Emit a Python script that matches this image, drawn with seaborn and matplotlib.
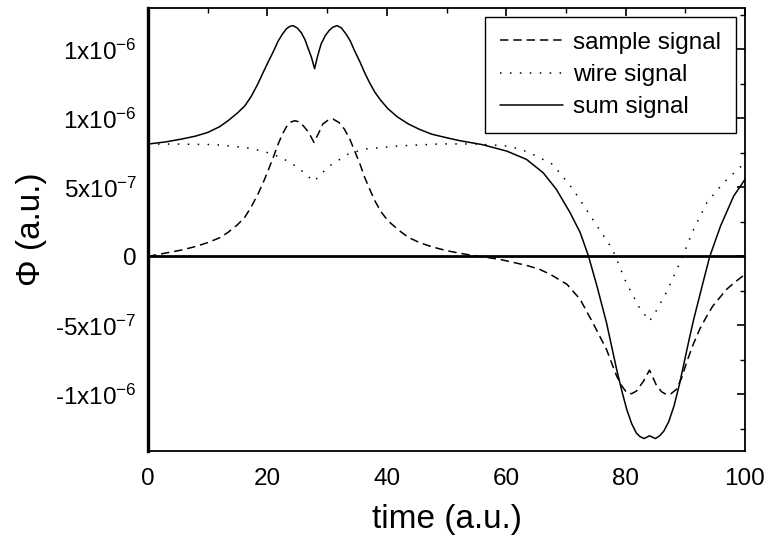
import numpy as np
import pandas as pd
import matplotlib
matplotlib.use("Agg")
import matplotlib.pyplot as plt
import seaborn as sns
from matplotlib.ticker import FixedLocator, MultipleLocator

# ---- data (values in units of 1e-7 a.u.) ----
sample_t = [0, 5.6, 8.0, 10.0, 12.0, 13.4, 15.0, 16.2, 17.3, 18.4, 19.3, 20.1, 21.0, 21.8,
            22.5, 23.2, 24.0, 24.6, 25.3, 26.0, 26.9, 27.8,
            28.6, 29.3, 30.1, 31.0, 32.0, 32.9, 33.8, 34.6, 35.5, 36.3, 37.2, 38.0, 39.0,
            40.2, 42.0, 43.6, 45.5, 47.5, 50.0, 52.3, 54.5, 59.0,
            63.4, 65.5, 67.4, 70.2, 72.4, 74.5, 76.8, 78.5, 79.4, 80.2, 81.0, 81.8, 83.0,
            84.0, 85.1, 86.0, 86.8, 87.6, 88.5, 89.4, 90.2, 91.3, 92.4, 93.5, 94.6, 96.9,
            98.5, 100]
sample_v = [0, 0.46, 0.72, 1.0, 1.35, 1.74, 2.3, 2.83, 3.6, 4.5, 5.35, 6.2, 7.2, 8.14,
            8.85, 9.4, 9.75, 9.83, 9.75, 9.47, 9.0, 8.26,
            8.95, 9.6, 9.85, 9.95, 9.7, 9.22, 8.5, 7.66, 6.7, 5.72, 4.8, 4.03, 3.25,
            2.58, 1.9, 1.38, 1.0, 0.7, 0.42, 0.22, 0.07, -0.22,
            -0.65, -0.92, -1.3, -2.03, -3.12, -4.8, -6.74, -8.67, -9.4, -9.88, -9.95, -9.76, -9.04,
            -8.24, -9.28, -9.8, -10.0, -9.95, -9.64, -8.8, -7.7, -6.4, -5.29, -4.4, -3.6, -2.39,
            -1.8, -1.3]

wire_t = [0, 5, 11.2, 16.2, 19.5, 22.3, 25.1, 27.8, 30.2, 33.5, 36.3, 41.9, 48.9,
          55, 60.1, 62.5, 64.5, 67.8, 71.2, 74.5, 77.8, 80.1, 82.3, 84.0, 85.1, 86.8,
          89.1, 91.4, 93.6, 96.4, 100]
wire_v = [8.14, 8.14, 8.1, 7.9, 7.6, 7.17, 6.45, 5.43, 6.5, 7.41, 7.78, 8.0, 8.15,
          8.15, 8.0, 7.75, 7.39, 6.67, 4.86, 2.68, 0.51, -1.9, -3.7, -4.69, -3.96, -2.63,
          -0.46, 1.96, 3.89, 5.34, 6.79]

sum_t = [0, 3.0, 5.6, 8.0, 10.05, 12.0, 13.4, 15.0, 16.2, 17.3, 18.4, 19.2, 20.1, 21.0,
         21.8, 22.5, 23.2, 23.8, 24.3, 25.0, 25.7, 26.3, 26.8, 27.4, 27.9,
         28.4, 29.0, 29.7, 30.4, 31.0, 31.7, 32.4, 33.2, 33.9, 34.6, 35.5, 36.3, 37.1,
         38.0, 39.0, 40.2, 41.8, 43.6, 45.5, 47.5, 50.0, 52.3, 56,
         60.1, 63.4, 66.2, 68.4, 70.7, 72.4, 73.8, 75.2, 76.8, 78.5, 79.4, 80.2, 81.0,
         81.8, 82.4, 83.1, 84.0, 85.0, 85.7, 86.4, 87.2, 88.1, 89.0, 89.8, 90.6, 91.4,
         93.1, 94.1, 95.9, 98.1, 100]
sum_v = [8.14, 8.3, 8.5, 8.72, 8.99, 9.4, 9.83, 10.4, 10.9, 11.6, 12.5, 13.25, 14.06, 14.85,
         15.6, 16.1, 16.5, 16.68, 16.72, 16.55, 16.2, 15.7, 15.1, 14.4, 13.6,
         14.5, 15.4, 16.0, 16.4, 16.62, 16.72, 16.55, 16.1, 15.6, 14.9, 14.1, 13.3, 12.6,
         11.9, 11.3, 10.7, 10.1, 9.6, 9.2, 8.86, 8.6, 8.38, 8.1,
         7.63, 7.03, 6.06, 4.86, 3.17, 1.72, 0, -2.15, -4.8, -8.19, -9.8, -11.1, -12.1,
         -12.8, -13.05, -13.2, -13.0, -13.2, -13.0, -12.66, -12.0, -10.85, -9.3, -7.7, -6.1, -4.57,
         -1.67, 0, 2.2, 4.37, 5.58]

UNIT = 1e-7

ytick_vals = [-1e-6, -5e-7, 0, 5e-7, 1e-6, 1.5e-6]
ytick_labels = ["-1x10$^{-6}$", "-5x10$^{-7}$", "0", "5x10$^{-7}$", "1x10$^{-6}$", "1x10$^{-6}$"]
xtick_vals = [0, 20, 40, 60, 80, 100]

series_names = ["sample signal", "wire signal", "sum signal"]

# ---- style ----
sns.set_theme(style="white")
plt.rcParams['font.family'] = ['Liberation Sans', 'DejaVu Sans']
plt.rcParams['mathtext.fontset'] = 'custom'
plt.rcParams['mathtext.rm'] = 'Liberation Sans'
plt.rcParams['mathtext.it'] = 'Liberation Sans'
plt.rcParams['mathtext.default'] = 'regular'
plt.rcParams['text.color'] = 'black'
plt.rcParams['axes.labelcolor'] = 'black'
plt.rcParams['xtick.color'] = 'black'
plt.rcParams['ytick.color'] = 'black'

fig = plt.figure(figsize=(7.68, 5.44), dpi=100)
ax = fig.add_axes([148/768, 1 - 451/544, (745-148)/768, (451-8)/544])

df_s = pd.DataFrame({"t": sample_t, "v": np.array(sample_v) * UNIT})
df_w = pd.DataFrame({"t": wire_t, "v": np.array(wire_v) * UNIT})
df_m = pd.DataFrame({"t": sum_t, "v": np.array(sum_v) * UNIT})

lw = 1.1
sns.lineplot(data=df_s, x="t", y="v", ax=ax, color="black", lw=lw, sort=False,
             estimator=None, label=series_names[0])
ax.lines[-1].set_dashes((5.5, 3.2))
sns.lineplot(data=df_w, x="t", y="v", ax=ax, color="black", lw=lw, sort=False,
             estimator=None, label=series_names[1])
ax.lines[-1].set_dashes((1.0, 5.5))
sns.lineplot(data=df_m, x="t", y="v", ax=ax, color="black", lw=lw, sort=False,
             estimator=None, label=series_names[2])

ax.axhline(0, color="black", lw=2.0, zorder=1)

ax.set_xlim(0, 100)
ax.set_ylim(-1.41e-6, 1.80e-6)

ax.xaxis.set_major_locator(FixedLocator(xtick_vals))
ax.xaxis.set_minor_locator(MultipleLocator(10))
ax.yaxis.set_major_locator(FixedLocator(ytick_vals))
ax.yaxis.set_minor_locator(MultipleLocator(2.5e-7))
ax.set_yticklabels(ytick_labels)
ax.set_xticklabels([str(v) for v in xtick_vals])

ax.tick_params(axis="both", which="both", labelsize=17.5, colors="black")
ax.tick_params(axis="x", which="major", direction="out", length=6, width=1.2, pad=6)
ax.tick_params(axis="x", which="minor", direction="out", length=3.5, width=1.0)
ax.tick_params(axis="y", which="major", direction="out", length=6, width=1.2, pad=2)
ax.tick_params(axis="y", which="minor", direction="out", length=3.5, width=1.0)

# top and right inward ticks
secx = ax.secondary_xaxis("top")
secx.xaxis.set_major_locator(FixedLocator(xtick_vals))
secx.xaxis.set_minor_locator(MultipleLocator(10))
secx.tick_params(which="major", direction="in", length=6, width=1.2, labeltop=False)
secx.tick_params(which="minor", direction="in", length=3.5, width=1.0)
secx.spines["top"].set_visible(False)
secy = ax.secondary_yaxis("right")
secy.yaxis.set_major_locator(FixedLocator(ytick_vals))
secy.yaxis.set_minor_locator(MultipleLocator(2.5e-7))
secy.tick_params(which="major", direction="in", length=6, width=1.2, labelright=False)
secy.tick_params(which="minor", direction="in", length=3.5, width=1.0)
secy.spines["right"].set_visible(False)

for side in ["top", "right", "bottom"]:
    ax.spines[side].set_visible(True)
    ax.spines[side].set_color("black")
    ax.spines[side].set_linewidth(1.3)
ax.spines["left"].set_color("black")
ax.spines["left"].set_linewidth(2.4)

ax.set_xlabel("time (a.u.)", fontsize=24, labelpad=10)
ax.set_ylabel("Φ (a.u.)", fontsize=24, labelpad=6)

leg = ax.legend(loc="upper right", bbox_to_anchor=(0.985, 0.98), borderaxespad=0,
                fontsize=17.5, frameon=True, fancybox=False, handlelength=2.6,
                handletextpad=0.4, labelspacing=0.42, borderpad=0.62)
leg.get_frame().set_edgecolor("black")
leg.get_frame().set_linewidth(1.0)
leg.get_frame().set_facecolor("white")
leg.get_frame().set_alpha(1)
for txt in leg.get_texts():
    txt.set_color("black")

fig.savefig("out.png", dpi=100)
